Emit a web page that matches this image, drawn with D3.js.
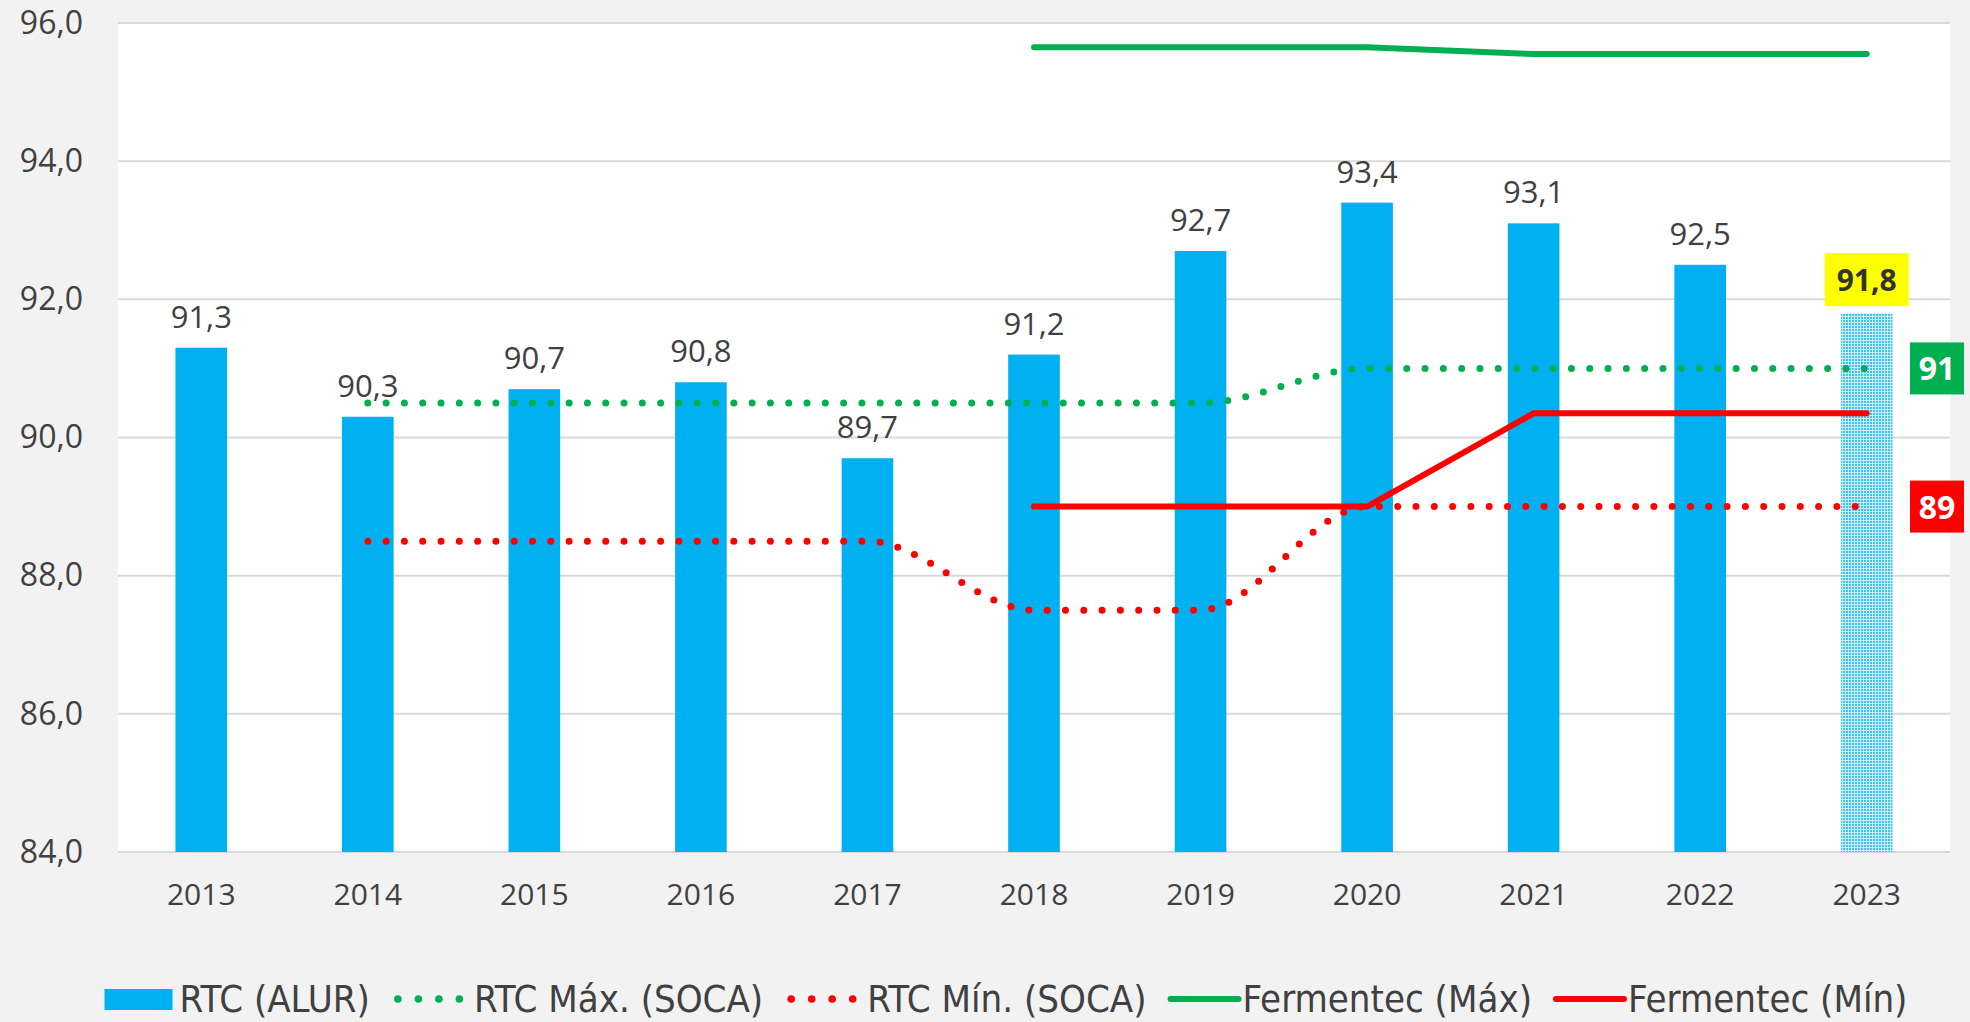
<!DOCTYPE html>
<html lang="pt">
<head>
<meta charset="utf-8">
<title>RTC</title>
<script src="https://cdn.jsdelivr.net/npm/d3@7"></script>
<style>
  body { margin: 0; background: #f2f2f2; }
  svg { display: block; }
</style>
</head>
<body>
<script>
// data
var years = ["2013","2014","2015","2016","2017","2018","2019","2020","2021","2022","2023"];
var rtcAlur = [91.3, 90.3, 90.7, 90.8, 89.7, 91.2, 92.7, 93.4, 93.1, 92.5, 91.8];
var rtcMaxSoca = [null, 90.5, 90.5, 90.5, 90.5, 90.5, 90.5, 91.0, 91.0, 91.0, 91.0];
var rtcMinSoca = [null, 88.5, 88.5, 88.5, 88.5, 87.5, 87.5, 89.0, 89.0, 89.0, 89.0];
var fermMax = [null, null, null, null, null, 95.65, 95.65, 95.65, 95.55, 95.55, 95.55];
var fermMin = [null, null, null, null, null, 89.0, 89.0, 89.0, 90.35, 90.35, 90.35];
var yTicks = [84, 86, 88, 90, 92, 94, 96];
var legendNames = ["RTC (ALUR)", "RTC Máx. (SOCA)", "RTC Mín. (SOCA)", "Fermentec (Máx)", "Fermentec (Mín)"];

var W = 1970, H = 1022;
var m = {top: 23, left: 118, right: 20, bottom: 170};
var iw = W - m.left - m.right, ih = H - m.top - m.bottom;

var blue = "#00b0f0", green = "#00b050", red = "#ff0000", textCol = "#404040";
var comma = function(v) { return d3.format(".1f")(v).replace(".", ","); };

var svg = d3.select("body").append("svg").attr("width", W).attr("height", H);
svg.append("rect").attr("width", W).attr("height", H).attr("fill", "#f2f2f2");

// dotted fill for the last bar
var defs = svg.append("defs");
var pat = defs.append("pattern").attr("id", "dots").attr("patternUnits", "userSpaceOnUse")
  .attr("width", 3).attr("height", 3);
pat.append("rect").attr("width", 3).attr("height", 3).attr("fill", "#c8eefc");
pat.append("rect").attr("width", 2).attr("height", 2).attr("fill", "#3fc2f2");

var g = svg.append("g").attr("transform", "translate(" + m.left + "," + m.top + ")");

var x = d3.scaleBand().domain(years).range([0, iw]).paddingInner(0.69).paddingOuter(0.345);
var y = d3.scaleLinear().domain([84, 96]).range([ih, 0]);
var cx = function(i) { return x(years[i]) + x.bandwidth() / 2; };

g.append("rect").attr("width", iw).attr("height", ih).attr("fill", "#fff");

// gridlines
g.selectAll(".grid").data(yTicks).enter().append("line")
  .attr("x1", 0).attr("x2", iw)
  .attr("y1", function(d) { return y(d); }).attr("y2", function(d) { return y(d); })
  .attr("stroke", "#d9d9d9").attr("stroke-width", 2);

// y axis labels
var yAxis = d3.axisLeft(y).tickValues(yTicks).tickFormat(comma).tickSize(0).tickPadding(35);
g.append("g").call(yAxis).call(function(a) {
  a.select(".domain").remove();
  a.selectAll("text").attr("fill", textCol).style("font-family", "Open Sans").style("font-size", "32px");
});

// x axis labels
var xAxis = d3.axisBottom(x).tickSize(0).tickPadding(32);
g.append("g").attr("transform", "translate(0," + ih + ")").call(xAxis).call(function(a) {
  a.select(".domain").remove();
  a.selectAll("text").attr("fill", textCol).style("font-family", "Open Sans").style("font-size", "30px");
});

// bars
var last = years.length - 1;
g.selectAll(".bar").data(rtcAlur).enter().append("rect")
  .attr("x", function(d, i) { return x(years[i]); })
  .attr("y", function(d) { return y(d); })
  .attr("width", x.bandwidth())
  .attr("height", function(d) { return ih - y(d); })
  .attr("fill", function(d, i) { return i === last ? "url(#dots)" : blue; });

// bar labels
g.selectAll(".lbl").data(rtcAlur).enter().append("text")
  .filter(function(d, i) { return i !== last; })
  .attr("x", function(d) { return cx(rtcAlur.indexOf(d)); })
  .attr("y", function(d) { return y(d) - 20; })
  .attr("text-anchor", "middle").attr("fill", textCol)
  .style("font-family", "Open Sans").style("font-size", "31px")
  .text(comma);

var lastY = y(rtcAlur[last]);
g.append("rect").attr("x", cx(last) - 42).attr("y", lastY - 60).attr("width", 84).attr("height", 53)
  .attr("fill", "#ffff00");
g.append("text").attr("x", cx(last)).attr("y", lastY - 22).attr("text-anchor", "middle")
  .attr("fill", "#333").style("font-family", "Open Sans").style("font-weight", "bold").style("font-size", "30px")
  .text(comma(rtcAlur[last]));

// lines
function lineGen(curve) {
  return d3.line().defined(function(d) { return d !== null; })
    .x(function(d, i) { return cx(i); }).y(function(d) { return y(d); }).curve(curve);
}
function drawDotted(data, col) {
  g.append("path").attr("d", lineGen(d3.curveMonotoneX)(data))
    .attr("fill", "none").attr("stroke", col).attr("stroke-width", 7)
    .attr("stroke-linecap", "round").attr("stroke-dasharray", "0 18.3");
}
function drawSolid(data, col) {
  g.append("path").attr("d", lineGen(d3.curveLinear)(data))
    .attr("fill", "none").attr("stroke", col).attr("stroke-width", 6)
    .attr("stroke-linecap", "round").attr("stroke-linejoin", "round");
}
drawDotted(rtcMaxSoca, green);
drawDotted(rtcMinSoca, red);
drawSolid(fermMax, green);
drawSolid(fermMin, red);

// badges on the right
function badge(val, col) {
  var by = y(val);
  svg.append("rect").attr("x", 1910).attr("y", m.top + by - 26).attr("width", 54).attr("height", 52).attr("fill", col);
  svg.append("text").attr("x", 1937).attr("y", m.top + by + 12).attr("text-anchor", "middle")
    .attr("fill", "#fff").style("font-family", "Open Sans").style("font-weight", "bold").style("font-size", "32px")
    .text(val);
}
badge(rtcMaxSoca[last], green);
badge(rtcMinSoca[last], red);

// legend
var legend = svg.append("g");
var lx = 0, symW = 68, ly = 999;
var kinds = [
  {type: "bar", col: blue}, {type: "dot", col: green}, {type: "dot", col: red},
  {type: "line", col: green}, {type: "line", col: red}
];
legendNames.forEach(function(name, i) {
  var k = kinds[i];
  if (k.type === "bar") {
    legend.append("rect").attr("x", lx).attr("y", ly - 10).attr("width", symW).attr("height", 21).attr("fill", k.col);
  } else if (k.type === "dot") {
    for (var j = 0; j < 4; j++) {
      legend.append("circle").attr("cx", lx + 3 + 4 + j * 20.5).attr("cy", ly).attr("r", 3.8).attr("fill", k.col);
    }
  } else {
    legend.append("line").attr("x1", lx + 3).attr("x2", lx + symW + 3).attr("y1", ly).attr("y2", ly)
      .attr("stroke", k.col).attr("stroke-width", 6).attr("stroke-linecap", "round");
  }
  var tx = lx + symW + (k.type === "dot" ? 15 : 7);
  var t = legend.append("text").attr("x", tx).attr("y", ly + 13).attr("fill", textCol)
    .style("font-family", "'Liberation Sans Narrow', 'DejaVu Sans Condensed', sans-serif").style("font-size", "38px")
    .text(name);
  lx = tx + t.node().getComputedTextLength() + 21;
});
var totalW = lx - 21;
legend.attr("transform", "translate(" + (1006 - totalW / 2) + ",0)");
</script>
</body>
</html>
